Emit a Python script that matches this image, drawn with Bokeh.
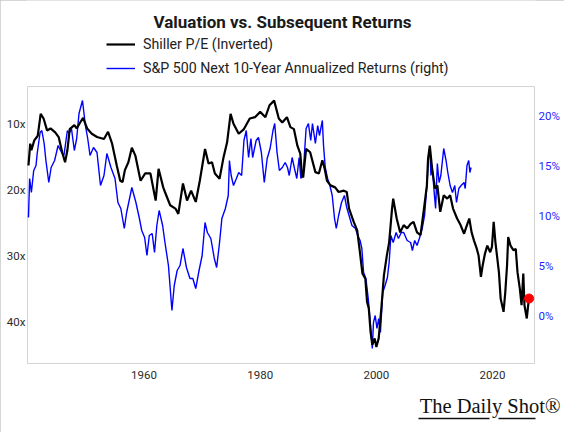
from bokeh.plotting import figure
from bokeh.models import (Range1d, LinearAxis, FixedTicker, PrintfTickFormatter,
                          CustomJSTickFormatter, Legend, LegendItem, Title, Label)
from bokeh.embed import file_html
from bokeh.resources import INLINE

# ---------------- data ----------------
pe_years = [1940.1, 1940.4, 1940.6, 1941.1, 1941.7, 1942.2, 1942.7, 1943.3, 1943.9, 1944.7,
            1945.3, 1945.9, 1946.4, 1946.8, 1947.2, 1948.0, 1948.4, 1949.0, 1949.5, 1950.2,
            1951.0, 1951.9, 1953.1, 1953.8, 1954.5, 1955.3, 1955.9, 1956.3, 1956.7, 1957.3,
            1957.9, 1958.5, 1959.4, 1960.2, 1961.1, 1962.0, 1962.5, 1963.3, 1963.6, 1964.5,
            1965.4, 1965.9, 1966.7, 1967.4, 1968.1, 1968.9, 1969.6, 1970.5, 1971.1, 1971.7,
            1972.2, 1973.0, 1973.7, 1974.3, 1974.9, 1975.4, 1976.3, 1977.2, 1978.2, 1979.1,
            1980.0, 1980.9, 1981.6, 1982.4, 1983.2, 1983.8, 1984.6, 1985.2, 1985.8, 1986.4,
            1986.9, 1987.2, 1987.4, 1987.9, 1988.6, 1989.5, 1990.1, 1990.7, 1991.1, 1991.5,
            1992.1, 1992.9, 1993.5, 1994.4, 1994.9, 1995.3, 1996.1, 1996.7, 1997.1, 1997.6,
            1998.1, 1998.4, 1998.7, 1999.0, 1999.3, 1999.7, 2000.0, 2000.4, 2000.9, 2001.3,
            2001.8, 2002.2, 2002.7, 2002.9, 2003.5, 2004.1, 2004.7, 2005.3, 2005.9, 2006.4,
            2007.0, 2007.6, 2008.2, 2008.7, 2008.9, 2009.2, 2009.6, 2010.1, 2010.5, 2011.0,
            2011.6, 2012.2, 2012.7, 2013.2, 2013.9, 2014.5, 2015.1, 2015.6, 2016.0, 2016.4,
            2016.8, 2017.3, 2017.6, 2018.0, 2018.3, 2018.7, 2019.1, 2019.6, 2019.9, 2020.2,
            2020.5, 2021.1, 2021.4, 2021.9, 2022.2, 2022.5, 2022.7, 2023.1, 2023.6, 2024.0,
            2024.3, 2024.7, 2025.0, 2025.3, 2025.5, 2025.9, 2026.2]
pe_values = [16.3, 13.0, 14.0, 12.5, 11.8, 8.5, 9.2, 11.0, 10.7, 11.3,
             12.0, 14.3, 15.8, 14.0, 10.8, 10.2, 10.7, 9.8, 9.1, 10.7,
             11.5, 12.0, 12.3, 11.2, 13.0, 16.3, 18.6, 18.8, 17.0, 15.8,
             13.6, 14.8, 18.6, 17.5, 17.5, 21.6, 16.8, 19.6, 20.3, 22.3,
             22.8, 23.6, 19.0, 21.6, 20.1, 21.8, 18.6, 13.8, 16.0, 15.8,
             17.5, 18.3, 15.0, 12.8, 8.5, 10.0, 11.5, 10.8, 9.2, 9.0,
             8.2, 9.0, 7.2, 6.5, 9.2, 9.8, 9.0, 10.5, 10.8, 13.3,
             14.5, 17.8, 18.1, 13.8, 14.3, 17.3, 17.5, 15.5, 16.8, 18.6,
             19.3, 19.6, 20.3, 20.1, 20.3, 22.8, 24.8, 26.1, 28.9, 32.6,
             33.4, 36.9, 37.9, 41.4, 43.4, 42.4, 43.7, 42.4, 37.4, 32.9,
             29.9, 27.9, 22.8, 21.3, 24.3, 26.4, 25.3, 25.8, 25.1, 24.8,
             26.4, 26.8, 22.8, 19.3, 15.3, 13.3, 16.8, 19.8, 19.3, 23.3,
             20.8, 21.3, 20.8, 22.8, 24.3, 25.3, 26.6, 25.3, 24.3, 26.4,
             27.6, 28.9, 29.9, 33.1, 31.4, 29.6, 28.4, 29.4, 28.6, 24.8,
             27.9, 32.4, 36.4, 38.4, 35.4, 31.4, 27.1, 28.4, 29.1, 28.9,
             32.4, 34.9, 37.4, 32.6, 37.4, 39.4, 36.9]

ret_years = [1940.1, 1940.3, 1940.6, 1941.0, 1941.4, 1941.6, 1942.1, 1942.4, 1942.8, 1943.1,
             1943.6, 1944.0, 1944.6, 1945.2, 1945.8, 1946.2, 1946.8, 1947.1, 1947.5, 1948.0,
             1948.4, 1948.8, 1949.4, 1949.9, 1950.3, 1950.7, 1951.3, 1951.9, 1952.5, 1953.1,
             1953.6, 1954.3, 1955.0, 1955.5, 1956.0, 1956.6, 1957.0, 1957.9, 1958.6, 1959.2,
             1959.6, 1960.1, 1960.5, 1960.9, 1961.4, 1961.8, 1962.2, 1962.6, 1963.2, 1963.6,
             1964.2, 1964.8, 1965.2, 1965.7, 1966.2, 1966.7, 1967.3, 1967.9, 1968.4, 1968.9,
             1969.4, 1970.0, 1970.5, 1970.9, 1971.5, 1972.1, 1972.5, 1973.0, 1973.4, 1974.0,
             1974.5, 1974.7, 1975.0, 1975.4, 1975.9, 1976.3, 1976.8, 1977.2, 1977.6, 1978.0,
             1978.4, 1978.7, 1979.3, 1979.7, 1980.2, 1980.7, 1981.2, 1981.7, 1982.2, 1982.5,
             1982.9, 1983.3, 1983.8, 1984.3, 1984.7, 1985.0, 1985.5, 1985.9, 1986.3, 1986.7,
             1987.0, 1987.4, 1987.9, 1988.3, 1988.7, 1989.0, 1989.5, 1989.9, 1990.2, 1990.7,
             1990.9, 1991.2, 1991.6, 1992.0, 1992.4, 1992.8, 1993.1, 1993.5, 1994.0, 1994.5,
             1994.9, 1995.3, 1995.8, 1996.4, 1996.8, 1997.2, 1997.5, 1997.8, 1998.2, 1998.6,
             1999.0, 1999.3, 1999.5, 1999.8, 2000.1, 2000.4, 2000.7, 2001.1, 2001.5, 2001.9,
             2002.2, 2002.5, 2002.9, 2003.4, 2003.8, 2004.3, 2004.7, 2005.3, 2005.9, 2006.2,
             2006.6, 2007.0, 2007.4, 2007.9, 2008.3, 2008.7, 2009.0, 2009.2, 2009.4, 2009.6,
             2010.0, 2010.2, 2010.5, 2010.8, 2011.1, 2011.6, 2012.0, 2012.3, 2012.7, 2013.1,
             2013.5, 2013.8, 2014.2, 2014.6, 2015.1, 2015.3, 2015.6, 2015.9, 2016.1, 2016.3]
ret_values = [9.8, 13.7, 12.3, 14.5, 15.0, 16.2, 18.3, 18.5, 17.2, 15.5,
              13.3, 14.8, 15.5, 17.0, 16.3, 16.0, 18.5, 18.2, 18.7, 16.5,
              17.7, 20.2, 21.5, 19.0, 17.7, 16.0, 16.8, 16.3, 13.0, 14.0,
              16.2, 14.8, 13.7, 11.3, 10.7, 8.7, 10.3, 12.8, 11.3, 9.7,
              8.5, 7.8, 6.0, 8.0, 8.2, 6.3, 9.0, 10.5, 9.0, 7.3,
              5.0, 0.5, 3.0, 4.5, 5.0, 6.7, 4.8, 3.7, 3.7, 2.7,
              4.3, 6.0, 9.3, 8.3, 7.7, 5.7, 4.8, 7.3, 9.7, 10.7,
              12.0, 15.5, 14.0, 13.0, 13.7, 14.3, 14.0, 17.5, 18.5, 15.8,
              17.7, 15.8, 17.5, 17.8, 16.3, 13.3, 15.7, 16.7, 18.5, 19.2,
              16.3, 14.5, 14.8, 15.3, 14.8, 14.0, 15.8, 14.7, 13.7, 15.8,
              13.7, 14.2, 18.7, 19.2, 17.5, 19.2, 17.2, 19.0, 18.0, 19.5,
              17.0, 14.8, 13.7, 13.0, 12.0, 9.7, 8.7, 10.0, 11.3, 12.0,
              10.8, 10.0, 9.0, 8.7, 8.0, 7.5, 6.7, 4.3, 3.7, 1.7,
              -1.0, -3.3, -0.7, 0.0, -1.3, -0.3, -1.7, 2.3, 3.0, 3.8,
              5.3, 8.0, 7.3, 8.3, 7.7, 8.3, 8.3, 7.5, 7.3, 6.5,
              7.5, 7.0, 7.7, 8.7, 10.0, 13.0, 16.0, 16.8, 14.0, 15.0,
              12.0, 10.7, 15.2, 13.3, 14.0, 16.7, 15.5, 14.3, 13.0, 12.3,
              13.0, 11.3, 12.7, 13.0, 13.3, 12.7, 15.0, 15.5, 14.3, 14.8]

latest_year = [2026.3]
latest_ret = [1.7]

x_ticks = [1960, 1980, 2000, 2020]
pe_ticks = [10, 20, 30, 40]
ret_ticks = [0, 5, 10, 15, 20]

TITLE = "Valuation vs. Subsequent Returns"
LABEL_PE = "Shiller P/E (Inverted)"
LABEL_RET = "S&P 500 Next 10-Year Annualized Returns (right)"
LOGO = "The Daily Shot®"

FONT = "Roboto"

# visible plot box (in data units of x and left axis)
BOX_X0, BOX_X1 = 1939.93, 2027.23
BOX_TOP, BOX_BOTTOM = 4.37, 46.2
# logo underline pieces and red dot (x units)
UNDERLINE_SEGMENTS = [(2007.2, 2019.5), (2021.1, 2029.6)]
LOGO_DOT = (2029.45, 2029.6)
SPACER_TICK = 1950

# ---------------- figure ----------------
# the frame reaches up to the top of the canvas so that title & legend sit inside it
p = figure(width=564, height=432, output_backend="svg", toolbar_location=None,
           x_range=Range1d(1939.76, 2027.40), y_range=Range1d(46.35, -8.62),
           min_border_left=26, min_border_right=29, min_border_top=0, min_border_bottom=68)
p.title.visible = False
p.extra_y_ranges = {"ret": Range1d(-4.9, 31.5)}
p.styles = {"outline": "1px solid #c8c8c8", "outline-offset": "-1px"}

p.xgrid.visible = False
p.ygrid.visible = False
p.outline_line_color = None
p.background_fill_color = "white"
p.border_fill_color = "white"

right_axis = LinearAxis(y_range_name="ret")
p.add_layout(right_axis, "right")

for ax in [p.xaxis[0], p.yaxis[0], right_axis]:
    ax.axis_line_color = None
    ax.major_tick_line_color = None
    ax.minor_tick_line_color = None
    ax.major_tick_in = 0
    ax.major_tick_out = 0
    ax.minor_tick_in = 0
    ax.minor_tick_out = 0
    ax.major_label_text_font = FONT
    ax.major_label_text_font_size = "11.5px"
    ax.major_label_text_color = "#2b2b2b"

p.xaxis[0].ticker = FixedTicker(ticks=x_ticks)
p.xaxis[0].major_label_standoff = 6
p.yaxis[0].ticker = FixedTicker(ticks=pe_ticks)
p.yaxis[0].formatter = PrintfTickFormatter(format="%dx")
p.yaxis[0].major_label_standoff = 1
right_axis.ticker = FixedTicker(ticks=ret_ticks)
right_axis.formatter = PrintfTickFormatter(format="%d%%")
right_axis.major_label_standoff = 3
right_axis.major_label_text_color = "#1f1fff"

# plot box
p.quad(left=[BOX_X0], right=[BOX_X1], top=[BOX_TOP], bottom=[BOX_BOTTOM],
       fill_color=None, line_color="#d4d4d4", line_width=1)

blue = p.line(ret_years, ret_values, line_color="#0000ff", line_width=1.4, y_range_name="ret")
black = p.line(pe_years, pe_values, line_color="#000000", line_width=2.2)
p.scatter(latest_year, latest_ret, size=9, fill_color="#ff0000", line_color="#ff0000",
          y_range_name="ret")

legend = Legend(items=[LegendItem(label=LABEL_PE, renderers=[black]),
                       LegendItem(label=LABEL_RET, renderers=[blue])],
                location=(80, 286), orientation="vertical",
                glyph_width=29, glyph_height=20, label_height=20, label_standoff=8,
                spacing=4, padding=0, margin=0,
                border_line_color=None, background_fill_alpha=0,
                label_text_font=FONT, label_text_font_size="14.2px",
                label_text_color="#222222")
p.add_layout(legend)

p.add_layout(Label(x=256, y=342.5, x_units="screen", y_units="screen", text=TITLE,
                   text_align="center", text_baseline="alphabetic", text_font=FONT,
                   text_font_style="bold", text_font_size="17px", text_color="#1a1a1a"))


# ---- logo below the x axis: spacer, text, underline with red dot ----
def bare_axis(ticks=(), tick_color=None, **kw):
    # an axis without visible ticks or labels; only its line (if any) and its size are used
    return LinearAxis(ticker=FixedTicker(ticks=list(ticks)), major_tick_line_color=tick_color,
                      minor_tick_line_color=None, major_tick_in=0, minor_tick_in=0,
                      minor_tick_out=0, major_label_standoff=0,
                      major_label_text_font_size="0px",
                      formatter=CustomJSTickFormatter(code="return ''"), **kw)


# spacer: a white tick on white background reserves vertical room above the logo
p.add_layout(bare_axis(ticks=[SPACER_TICK], tick_color="#ffffff", axis_line_color=None,
                       major_tick_out=13), "below")

p.add_layout(Title(text=LOGO, align="right", offset=-25, standoff=0, vertical_align="top",
                   text_font="Liberation Serif", text_font_style="normal",
                   text_font_size="20.5px", text_color="#111111"), "below")

for seg in UNDERLINE_SEGMENTS:
    p.add_layout(bare_axis(bounds=seg, axis_line_color="#111111", axis_line_width=1.4,
                           major_tick_out=0), "below")
p.add_layout(bare_axis(bounds=LOGO_DOT, axis_line_color="#ee0000", axis_line_width=5,
                       axis_line_cap="round", major_tick_out=0), "below")

open("out.html", "w").write(file_html(p, INLINE))
